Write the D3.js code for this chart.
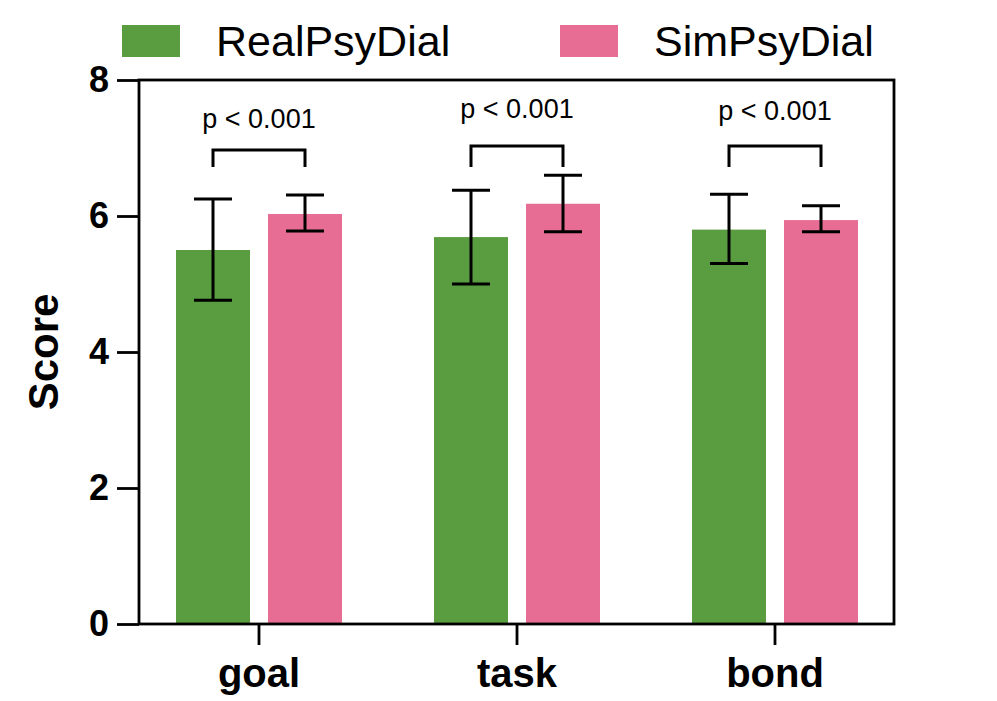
<!DOCTYPE html>
<html>
<head>
<meta charset="utf-8">
<script src="https://cdn.jsdelivr.net/npm/d3@7"></script>
<style>
  body { margin: 0; background: #fff; }
  svg { display: block; font-family: "Liberation Sans", Arial, sans-serif; }
</style>
</head>
<body>
<div id="chart"></div>
<script>
// data
var categories = ["goal", "task", "bond"];
var seriesNames = ["RealPsyDial", "SimPsyDial"];
var seriesColors = ["#5a9d40", "#e86d94"];

var realMean = [5.50, 5.69, 5.80];
var realLow  = [4.76, 5.00, 5.30];
var realHigh = [6.25, 6.38, 6.32];

var simMean = [6.03, 6.18, 5.94];
var simLow  = [5.78, 5.77, 5.77];
var simHigh = [6.31, 6.60, 6.15];

var pLabels = ["p < 0.001", "p < 0.001", "p < 0.001"];
var bracketTop  = [6.97, 7.03, 7.03];
var bracketFoot = [6.72, 6.72, 6.72];
var pLabelY     = [7.29, 7.44, 7.41];

var yTicks = [0, 2, 4, 6, 8];

var width = 997, height = 701;
var frame = {left: 139, right: 894, top: 80, bottom: 624};

var svg = d3.select("#chart").append("svg")
    .attr("width", width)
    .attr("height", height);

var x = d3.scaleBand()
    .domain(categories)
    .range([130, 904])
    .padding(0);

var y = d3.scaleLinear()
    .domain([0, 8])
    .range([frame.bottom, frame.top]);

// each category holds two bars, 74px wide with an 18px gap
var xSub = d3.scaleBand()
    .domain(seriesNames)
    .range([-83, 83])
    .paddingInner(18 / 92)
    .paddingOuter(0);

var rows = [];
categories.forEach(function (c, i) {
    rows.push({cat: c, series: seriesNames[0], mean: realMean[i], lo: realLow[i], hi: realHigh[i]});
    rows.push({cat: c, series: seriesNames[1], mean: simMean[i], lo: simLow[i], hi: simHigh[i]});
});

var color = d3.scaleOrdinal().domain(seriesNames).range(seriesColors);

function barCenter(d) {
    return x(d.cat) + x.bandwidth() / 2 + xSub(d.series) + xSub.bandwidth() / 2;
}

// bars
svg.append("g").attr("class", "bars")
    .selectAll("rect")
    .data(rows)
    .enter().append("rect")
    .attr("x", function (d) { return x(d.cat) + x.bandwidth() / 2 + xSub(d.series); })
    .attr("width", xSub.bandwidth())
    .attr("y", function (d) { return y(d.mean); })
    .attr("height", function (d) { return y(0) - y(d.mean); })
    .attr("fill", function (d) { return color(d.series); });

// error bars
var capHalf = 19;
var err = svg.append("g").attr("class", "errors")
    .attr("stroke", "#000")
    .attr("stroke-width", 3)
    .attr("fill", "none")
    .selectAll("path")
    .data(rows)
    .enter().append("path")
    .attr("d", function (d) {
        var cx = barCenter(d);
        return "M" + (cx - capHalf) + "," + y(d.hi) + "H" + (cx + capHalf) +
            "M" + cx + "," + y(d.hi) + "V" + y(d.lo) +
            "M" + (cx - capHalf) + "," + y(d.lo) + "H" + (cx + capHalf);
    });

// frame
svg.append("rect")
    .attr("x", frame.left)
    .attr("y", frame.top)
    .attr("width", frame.right - frame.left)
    .attr("height", frame.bottom - frame.top)
    .attr("fill", "none")
    .attr("stroke", "#000")
    .attr("stroke-width", 2.8);

// y axis
var yAxis = svg.append("g")
    .attr("transform", "translate(" + frame.left + ",0)")
    .call(d3.axisLeft(y).tickValues(yTicks).tickSize(22).tickSizeOuter(0).tickPadding(8));
yAxis.select(".domain").remove();
yAxis.selectAll(".tick line").attr("stroke-width", 2.8);
yAxis.selectAll(".tick text")
    .attr("font-family", "'Liberation Sans', Arial, sans-serif")
    .attr("font-size", 36)
    .attr("font-weight", "bold")
    .attr("fill", "#000");

// x axis
var xAxis = svg.append("g")
    .attr("transform", "translate(0," + frame.bottom + ")")
    .call(d3.axisBottom(x).tickSize(21).tickSizeOuter(0).tickPadding(14));
xAxis.select(".domain").remove();
xAxis.selectAll(".tick line").attr("stroke-width", 2.8);
xAxis.selectAll(".tick text")
    .attr("font-family", "'Liberation Sans', Arial, sans-serif")
    .attr("font-size", 40)
    .attr("font-weight", "bold")
    .attr("fill", "#000");

// y title
svg.append("text")
    .attr("transform", "translate(58," + y(4) + ") rotate(-90)")
    .attr("text-anchor", "middle")
    .attr("font-size", 42)
    .attr("font-weight", "bold")
    .text("Score");

// significance brackets
var sig = svg.append("g").attr("class", "sig");
categories.forEach(function (c, i) {
    var x1 = barCenter({cat: c, series: seriesNames[0]});
    var x2 = barCenter({cat: c, series: seriesNames[1]});
    sig.append("path")
        .attr("d", "M" + x1 + "," + y(bracketFoot[i]) + "V" + y(bracketTop[i]) +
            "H" + x2 + "V" + y(bracketFoot[i]))
        .attr("fill", "none")
        .attr("stroke", "#000")
        .attr("stroke-width", 3);
    sig.append("text")
        .attr("x", (x1 + x2) / 2)
        .attr("y", y(pLabelY[i]))
        .attr("text-anchor", "middle")
        .attr("font-size", 27)
        .text(pLabels[i]);
});

// legend
var legendX = [122, 560];
var legend = svg.append("g").attr("class", "legend")
    .selectAll("g")
    .data(seriesNames)
    .enter().append("g")
    .attr("transform", function (d, i) { return "translate(" + legendX[i] + ",25)"; });
legend.append("rect")
    .attr("width", 58)
    .attr("height", 32)
    .attr("fill", function (d) { return color(d); });
legend.append("text")
    .attr("x", 94)
    .attr("y", 31)
    .attr("font-size", 43)
    .text(function (d) { return d; });
</script>
</body>
</html>
